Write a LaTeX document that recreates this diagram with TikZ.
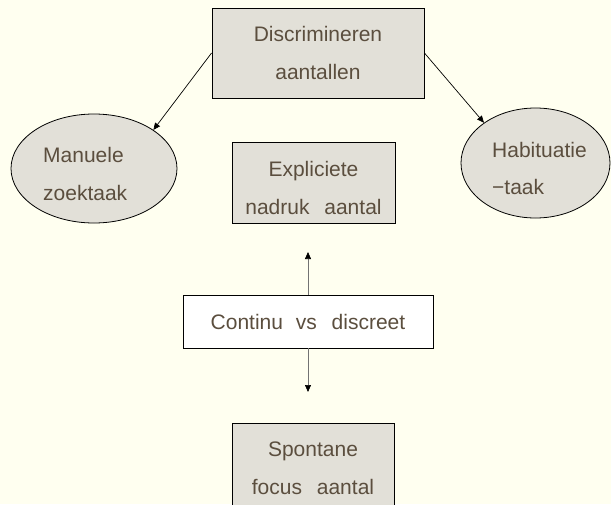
\documentclass[tikz,border=0pt]{standalone}
\usepackage{fontspec}
\setmainfont{Liberation Sans}
\usetikzlibrary{arrows.meta,shapes.geometric}
\definecolor{bg}{HTML}{FFFFF0}
\definecolor{boxfill}{HTML}{E2E0D8}
\definecolor{txt}{HTML}{5B4E3E}
\begin{document}
\begin{tikzpicture}[x=1pt,y=-1pt,
  box/.style={draw=black,line width=0.9pt,fill=boxfill,text=txt,align=center,inner sep=0pt,font=\fontsize{21}{38}\selectfont},
  ell/.style={ellipse,draw=black,line width=0.8pt,fill=boxfill,inner sep=0pt},
  lbl/.style={text=txt,anchor=base west,inner sep=0pt,font=\fontsize{21}{25}\selectfont},
  arr/.style={-{Triangle[length=7pt,width=6pt]},line width=0.7pt}]
\fill[bg] (0,0) rectangle (611,504);
\useasboundingbox (0,0) rectangle (611,504);
\clip (0,0) rectangle (611,504);
% boxes
\node[box,minimum width=212,minimum height=90] (disc) at (318,53) {Discrimineren\\aantallen};
\node[box,minimum width=163,minimum height=81] (expl) at (313.5,182.5) {\rule{0pt}{26pt}Expliciete\\nadruk\hspace{9pt} aantal};
\node[box,fill=white,minimum width=250,minimum height=53] (cont) at (308,321.5) {Continu\hspace{7pt} vs\hspace{9pt} discreet};
\node[box,minimum width=162,minimum height=82] (spon) at (313,464) {\rule{0pt}{24pt}Spontane\\focus\hspace{9pt} aantal};
% ellipses
\node[ell,minimum width=166,minimum height=109] (manu) at (94,168.5) {};
\node[ell,minimum width=149,minimum height=110] (habi) at (535.5,163) {};
\node[lbl] (manut1) at (43,162) {Manuele};
\node[lbl] (manut2) at (43,200) {zoektaak};
\node[lbl] (habit1) at (492,157) {Habituatie};
\node[lbl] (habit2) at (492,194) {−taak};
% connectors
\draw[arr] (disc.west) -- (manu.33);
\draw[arr] (disc.east) -- (habi.142.7);
\coordinate (upend) at (308,252);
\coordinate (downend) at (308,392);
\draw[arr,draw=black!55,-{Triangle[length=7pt,width=6pt,black]}] (cont.north) -- (upend);
\draw[arr,draw=black!55,-{Triangle[length=7pt,width=6pt,black]}] (cont.south) -- (downend);
\end{tikzpicture}
\end{document}
